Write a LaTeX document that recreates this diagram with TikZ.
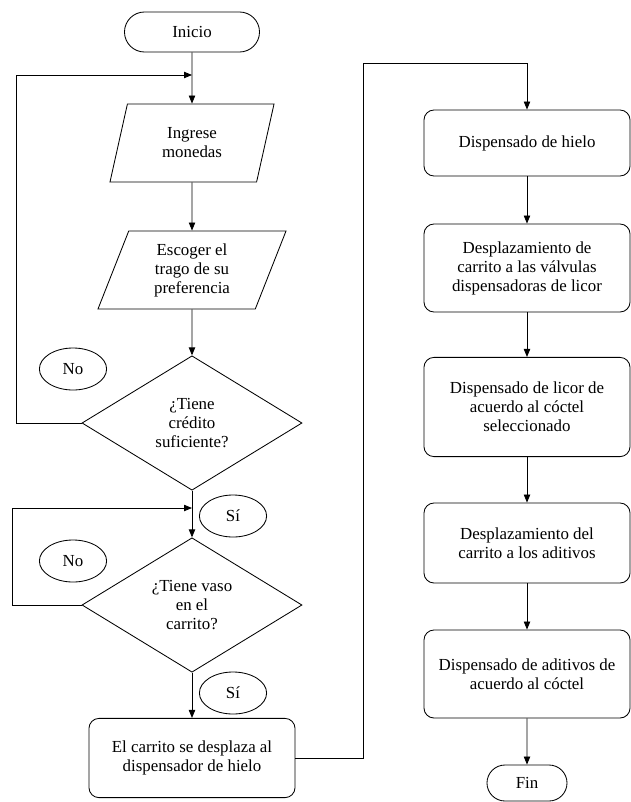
\documentclass[tikz,border=0pt]{standalone}
\usepackage{fontspec}
\setmainfont{Liberation Serif}
\usetikzlibrary{shapes.geometric,shapes.misc,arrows.meta}

\begin{document}
\begin{tikzpicture} [x=0.025cm,y=-0.025cm,line width=0.6pt,>={Triangle[length=2mm,width=1.6mm]},
		font=\fontsize{12}{13.5}\selectfont,
		terminal/.style={rounded rectangle,draw,inner sep=0pt},
		io/.style={trapezium,trapezium left angle=60,trapezium right angle=120,trapezium stretches body,
			draw,align=center,minimum height=1.95cm,inner sep=0pt},
		decision/.style={diamond,draw,align=center,minimum width=5.5cm,minimum height=3.36cm,inner sep=0pt},
		process/.style={rectangle,rounded corners=0.25cm,draw,align=center,minimum width=5.15cm},
		answer/.style={ellipse,draw,minimum width=1.68cm,minimum height=1.05cm,inner sep=0pt}]

	\useasboundingbox (0,0) rectangle (631,802);

	% left column
	\node [terminal, minimum width=3.375cm, minimum height=1cm] (term-inicio) at (192,32) {Inicio};
	\node [io, minimum width=4.1cm] (io-monedas) at (192,143) {Ingrese\\monedas};
	\node [io, minimum width=4.7cm] (io-trago) at (192,270) {Escoger el\\trago de su\\preferencia};
	\node [decision] (dec-credito) at (192,423) {¿Tiene\\crédito\\suficiente?};
	\node [decision] (dec-vaso) at (192,605) {¿Tiene vaso\\en el\\carrito?};
	\node [process, minimum height=1.98cm] (proc-carrito) at (192,758) {El carrito se desplaza al\\dispensador de hielo};

	\node [answer] (ans-no1) at (73,369) {No};
	\node [answer] (ans-si1) at (233,516) {Sí};
	\node [answer] (ans-no2) at (73,561) {No};
	\node [answer] (ans-si2) at (233,693) {Sí};

	% right column
	\node [process, minimum height=1.65cm] (proc-hielo) at (527,143) {Dispensado de hielo};
	\node [process, minimum height=2.2cm] (proc-valvulas) at (527,268) {Desplazamiento de\\carrito a las válvulas\\dispensadoras de licor};
	\node [process, minimum height=2.48cm] (proc-licor) at (527,407) {Dispensado de licor de\\acuerdo al cóctel\\seleccionado};
	\node [process, minimum height=2cm] (proc-aditivos) at (527,543) {Desplazamiento del\\carrito a los aditivos};
	\node [process, minimum height=2.2cm] (proc-mezcla) at (527,674) {Dispensado de aditivos de\\acuerdo al cóctel};
	\node [terminal, minimum width=2cm, minimum height=0.9cm] (term-fin) at (527,783) {Fin};

	\coordinate (j-monedas) at (192,75);
	\coordinate (l-credito) at (16,423);
	\coordinate (j-vaso) at (192,508);
	\coordinate (l-vaso) at (12,605);
	\coordinate (r-carrito) at (363,758);
	\coordinate (r-hielo) at (527,63);

	\draw [->] (term-inicio) -- (io-monedas);
	\draw [->] (io-monedas) -- (io-trago);
	\draw [->] (io-trago) -- (dec-credito);
	\draw [->] (dec-credito) -- (dec-vaso);
	\draw [->] (dec-vaso) -- (proc-carrito);
	\draw [->] (dec-credito.west) -- (l-credito) |- (j-monedas);
	\draw [->] (dec-vaso.west) -- (l-vaso) |- (j-vaso);
	\draw [->] (proc-carrito.east) -- (r-carrito) |- (r-hielo) -- (proc-hielo);

	\draw [->] (proc-hielo) -- (proc-valvulas);
	\draw [->] (proc-valvulas) -- (proc-licor);
	\draw [->] (proc-licor) -- (proc-aditivos);
	\draw [->] (proc-aditivos) -- (proc-mezcla);
	\draw [->] (proc-mezcla) -- (term-fin);
\end{tikzpicture}
\end{document}
